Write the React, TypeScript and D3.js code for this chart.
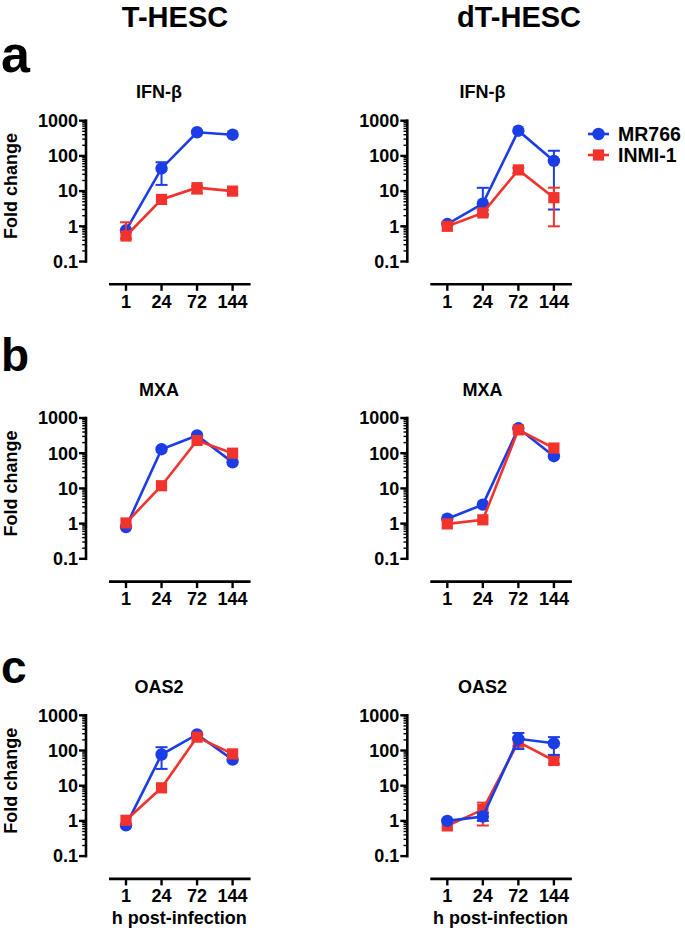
import React from "react";
import * as d3 from "d3";

// ---------- data ----------
const timepoints = [1, 24, 72, 144];
const xTickLabels = ["1", "24", "72", "144"];
const yTickValues = [0.1, 1, 10, 100, 1000];
const yTickLabels = ["0.1", "1", "10", "100", "1000"];
const cellLines = ["T-HESC", "dT-HESC"];
const genes = ["IFN-β", "MXA", "OAS2"];
const panelLetters = ["a", "b", "c"];
const seriesNames = ["MR766", "INMI-1"];

// IFN-β
const ifnT_MR766 = [0.77, 44, 470, 400];
const ifnT_MR766_err = [null, [15, 66], null, null];
const ifnT_INMI = [0.53, 5.8, 12.5, 10];
const ifnT_INMI_err = [[0.45, 1.3], null, [8.5, 14], null];
const ifnD_MR766 = [1.16, 4.4, 520, 72];
const ifnD_MR766_err = [null, [2.2, 12.4], null, [3.0, 140]];
const ifnD_INMI = [1.0, 2.4, 40, 6.5];
const ifnD_INMI_err = [null, [2.0, 2.9], [32, 46], [1.0, 12.5]];

// MXA
const mxaT_MR766 = [0.8, 130, 320, 55];
const mxaT_INMI = [1.04, 11.9, 230, 100];
const mxaD_MR766 = [1.38, 3.45, 510, 82];
const mxaD_INMI = [0.98, 1.28, 460, 140];

// OAS2
const oasT_MR766 = [0.75, 77, 285, 55];
const oasT_MR766_err = [null, [30, 124], null, null];
const oasT_INMI = [1.04, 8.7, 240, 80];
const oasD_MR766 = [1.0, 1.33, 215, 160];
const oasD_MR766_err = [null, [1.0, 1.7], [110, 315], [75, 240]];
const oasD_INMI = [0.72, 2.1, 175, 52];
const oasD_INMI_err = [null, [0.74, 3.3], [130, 210], [42, 65]];

const noErr = [null, null, null, null];

// panels[row][col]
const panels = [
  [
    { mr: ifnT_MR766, mrErr: ifnT_MR766_err, inmi: ifnT_INMI, inmiErr: ifnT_INMI_err, blueTop: false },
    { mr: ifnD_MR766, mrErr: ifnD_MR766_err, inmi: ifnD_INMI, inmiErr: ifnD_INMI_err, blueTop: false },
  ],
  [
    { mr: mxaT_MR766, mrErr: noErr, inmi: mxaT_INMI, inmiErr: noErr, blueTop: false },
    { mr: mxaD_MR766, mrErr: noErr, inmi: mxaD_INMI, inmiErr: noErr, blueTop: false },
  ],
  [
    { mr: oasT_MR766, mrErr: oasT_MR766_err, inmi: oasT_INMI, inmiErr: noErr, blueTop: false },
    { mr: oasD_MR766, mrErr: oasD_MR766_err, inmi: oasD_INMI, inmiErr: oasD_INMI_err, blueTop: true },
  ],
];

// ---------- style ----------
const BLUE = "#1b3de6";
const RED = "#f2332d";
const FONT = "'Liberation Sans', Arial, Helvetica, sans-serif";

function Series({ values, err, x, y, color, shape }: any) {
  const line = d3
    .line<number>()
    .x((_, i) => x(timepoints[i]) as number)
    .y((d) => y(d));
  return (
    <g>
      {err.map((e: any, i: number) => {
        if (!e) return null;
        const cx = x(timepoints[i]) as number;
        return (
          <g key={"e" + i} stroke={color} strokeWidth={2}>
            <line x1={cx} x2={cx} y1={y(e[0])} y2={y(e[1])} />
            <line x1={cx - 6} x2={cx + 6} y1={y(e[0])} y2={y(e[0])} />
            <line x1={cx - 6} x2={cx + 6} y1={y(e[1])} y2={y(e[1])} />
          </g>
        );
      })}
      <path d={line(values) || ""} fill="none" stroke={color} strokeWidth={2.6} />
      {values.map((v: number, i: number) => {
        const cx = x(timepoints[i]) as number;
        const cy = y(v);
        return shape === "circle" ? (
          <circle key={i} cx={cx} cy={cy} r={6.2} fill={color} />
        ) : (
          <rect key={i} x={cx - 5.6} y={cy - 5.6} width={11.2} height={11.2} fill={color} />
        );
      })}
    </g>
  );
}

function Panel({ row, col }: { row: number; col: number }) {
  const p = panels[row][col];
  const dy = row * 297.3;
  const dx = col * 321.3;
  const yTop = 120.7 + dy;
  const yBottom = 261.5 + dy;
  const axisX = 86 + dx;
  const xFirst = 126 + dx;
  const xLast = 232.6 + dx;
  const xAxisY = yBottom + 22.8;
  const y = d3.scaleLog().domain([0.1, 1000]).range([yBottom, yTop]);
  const x = d3.scalePoint<number>().domain(timepoints).range([xFirst, xLast]);

  const minor: number[] = [];
  [0.1, 1, 10, 100].forEach((d) => {
    for (let k = 2; k <= 9; k++) minor.push(d * k);
  });

  const blue = <Series values={p.mr} err={p.mrErr} x={x} y={y} color={BLUE} shape="circle" />;
  const red = <Series values={p.inmi} err={p.inmiErr} x={x} y={y} color={RED} shape="square" />;

  return (
    <g>
      {/* title */}
      <text x={159 + col * 323.5} y={yTop - 22.5} textAnchor="middle" fontSize={18} fontWeight="bold">
        {genes[row]}
      </text>
      {/* y axis */}
      <g stroke="#000">
        <line x1={axisX} x2={axisX} y1={yTop - 1.3} y2={yBottom + 1.3} strokeWidth={2.6} />
        {yTickValues.map((t) => (
          <line key={"M" + t} x1={axisX - 7} x2={axisX} y1={y(t)} y2={y(t)} strokeWidth={2.4} />
        ))}
        {minor.map((t, i) => (
          <line key={"m" + i} x1={axisX - 3.8} x2={axisX} y1={y(t)} y2={y(t)} strokeWidth={1.4} />
        ))}
      </g>
      {yTickValues.map((t, i) => (
        <text key={"yl" + t} x={axisX - 8} y={y(t) + 6.3} textAnchor="end" fontSize={18} fontWeight="bold">
          {yTickLabels[i]}
        </text>
      ))}
      {col === 0 && (
        <text
          transform={`translate(17,${(yTop + yBottom) / 2 - 5}) rotate(-90)`}
          textAnchor="middle"
          fontSize={18}
          fontWeight="bold"
        >
          Fold change
        </text>
      )}
      {/* x axis */}
      <g stroke="#000">
        <line x1={xFirst - 17} x2={xLast + 18} y1={xAxisY} y2={xAxisY} strokeWidth={2.6} />
        {timepoints.map((t) => (
          <line key={"xt" + t} x1={x(t)} x2={x(t)} y1={xAxisY} y2={xAxisY + 6.5} strokeWidth={2.4} />
        ))}
      </g>
      {timepoints.map((t, i) => (
        <text key={"xl" + t} x={x(t)} y={xAxisY + 23.5} textAnchor="middle" fontSize={18} fontWeight="bold">
          {xTickLabels[i]}
        </text>
      ))}
      {row === 2 && (
        <text x={(xFirst + xLast) / 2} y={xAxisY + 45.5} textAnchor="middle" fontSize={18} fontWeight="bold">
          h post-infection
        </text>
      )}
      {/* series */}
      {p.blueTop ? (
        <>
          {red}
          {blue}
        </>
      ) : (
        <>
          {blue}
          {red}
        </>
      )}
    </g>
  );
}

function Legend() {
  const items = [
    { name: seriesNames[0], color: BLUE, shape: "circle", cy: 134 },
    { name: seriesNames[1], color: RED, shape: "square", cy: 155 },
  ];
  return (
    <g>
      {items.map((it) => (
        <g key={it.name}>
          <line x1={588} x2={609} y1={it.cy} y2={it.cy} stroke={it.color} strokeWidth={2.6} />
          {it.shape === "circle" ? (
            <circle cx={598.5} cy={it.cy} r={6.2} fill={it.color} />
          ) : (
            <rect x={598.5 - 5.6} y={it.cy - 5.6} width={11.2} height={11.2} fill={it.color} />
          )}
          <text x={618} y={it.cy + 7} fontSize={19.5} fontWeight="bold">
            {it.name}
          </text>
        </g>
      ))}
    </g>
  );
}

export default function App() {
  const letterY = [72, 371, 683];
  return (
    <svg
      width={685}
      height={933}
      style={{ position: "absolute", left: 0, top: 0, background: "#fff" }}
      fontFamily={FONT}
    >
      <rect width={685} height={933} fill="#fff" />
      {cellLines.map((c, i) => (
        <text key={c} x={i === 0 ? 175 : 519} y={27} textAnchor="middle" fontSize={29} fontWeight="bold">
          {c}
        </text>
      ))}
      {panelLetters.map((l, i) => (
        <text key={l} x={1} y={letterY[i]} fontSize={i === 0 ? 52 : 46} fontWeight="bold">
          {l}
        </text>
      ))}
      {[0, 1, 2].map((r) => [0, 1].map((c) => <Panel key={r + "-" + c} row={r} col={c} />))}
      <Legend />
    </svg>
  );
}
